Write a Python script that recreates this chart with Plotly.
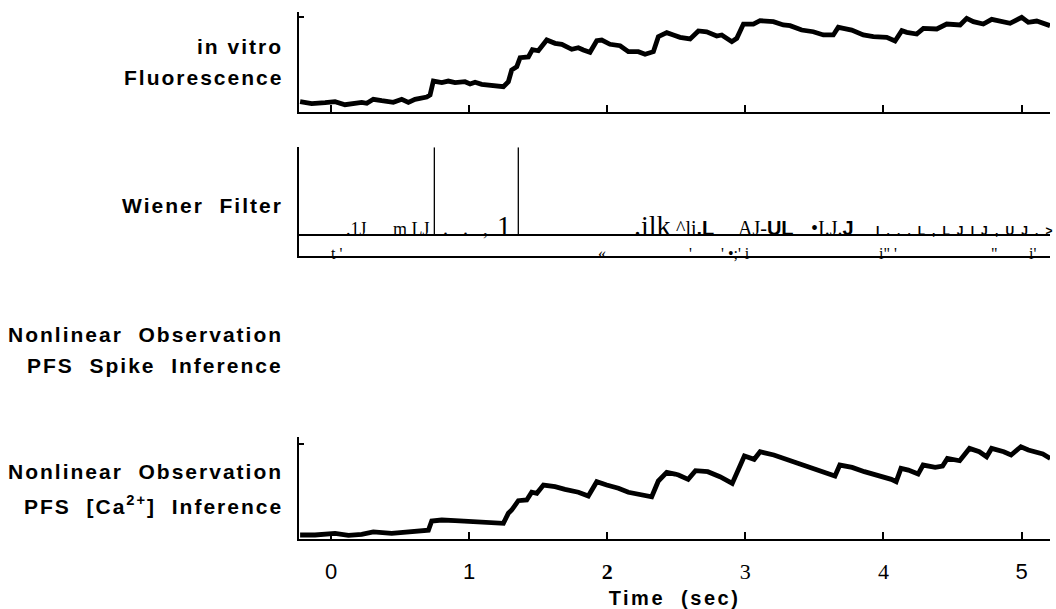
import plotly.graph_objects as go

W, H = 1056, 609
SANS = "Liberation Sans"
SERIF = "Liberation Serif"

# ---- in vitro fluorescence (normalised) ----
fluor_t = [-0.224, -0.140, -0.043, 0.029, 0.101, 0.161, 0.222, 0.259, 0.306, 0.367,
           0.451, 0.512, 0.560, 0.608, 0.693, 0.717, 0.741, 0.802, 0.849, 0.898,
           0.970, 1.007, 1.043, 1.091, 1.164, 1.248, 1.284, 1.308, 1.345, 1.369,
           1.429, 1.458, 1.501, 1.562, 1.622, 1.671, 1.743, 1.791, 1.827, 1.875,
           1.924, 1.960, 2.020, 2.093, 2.153, 2.225, 2.274, 2.334, 2.370, 2.431,
           2.479, 2.527, 2.600, 2.660, 2.720, 2.793, 2.829, 2.902, 2.938, 2.986,
           3.058, 3.106, 3.203, 3.275, 3.324, 3.408, 3.492, 3.565, 3.637, 3.673,
           3.710, 3.770, 3.854, 3.927, 4.024, 4.084, 4.133, 4.169, 4.241, 4.289,
           4.386, 4.458, 4.555, 4.603, 4.651, 4.723, 4.784, 4.868, 4.917, 5.001,
           5.049, 5.110, 5.158, 5.206]
fluor_v = [0.112, 0.091, 0.101, 0.112, 0.080, 0.091, 0.105, 0.095, 0.137, 0.122,
           0.105, 0.137, 0.105, 0.137, 0.161, 0.182, 0.329, 0.312, 0.329, 0.312,
           0.322, 0.298, 0.316, 0.295, 0.287, 0.269, 0.322, 0.445, 0.480, 0.575,
           0.582, 0.659, 0.648, 0.761, 0.726, 0.716, 0.663, 0.680, 0.656, 0.632,
           0.754, 0.761, 0.716, 0.701, 0.638, 0.638, 0.611, 0.638, 0.796, 0.838,
           0.814, 0.789, 0.772, 0.856, 0.848, 0.803, 0.814, 0.743, 0.779, 0.929,
           0.929, 0.964, 0.954, 0.919, 0.912, 0.866, 0.848, 0.814, 0.814, 0.895,
           0.884, 0.866, 0.814, 0.796, 0.789, 0.751, 0.859, 0.842, 0.824, 0.884,
           0.877, 0.929, 0.919, 0.989, 0.954, 0.929, 0.979, 0.954, 0.937, 1.000,
           0.947, 0.961, 0.943, 0.912]

# ---- inferred [Ca2+] (normalised) ----
ca_t = [-0.224, -0.116, 0.029, 0.126, 0.222, 0.306, 0.439, 0.560, 0.656, 0.705,
        0.729, 0.802, 0.898, 0.994, 1.091, 1.188, 1.248, 1.284, 1.308, 1.356,
        1.417, 1.453, 1.490, 1.538, 1.622, 1.694, 1.791, 1.863, 1.924, 1.996,
        2.081, 2.153, 2.250, 2.322, 2.370, 2.431, 2.491, 2.516, 2.586, 2.639,
        2.728, 2.816, 2.905, 2.993, 3.064, 3.107, 3.206, 3.312, 3.454, 3.596,
        3.649, 3.684, 3.773, 3.862, 3.950, 4.057, 4.092, 4.127, 4.180, 4.251,
        4.287, 4.375, 4.428, 4.463, 4.552, 4.588, 4.623, 4.694, 4.747, 4.783,
        4.871, 4.924, 4.995, 5.049, 5.154, 5.208]
ca_v = [0.042, 0.042, 0.060, 0.039, 0.049, 0.074, 0.060, 0.074, 0.084, 0.092,
        0.189, 0.200, 0.193, 0.186, 0.179, 0.172, 0.165, 0.271, 0.305, 0.403,
        0.411, 0.492, 0.481, 0.568, 0.551, 0.523, 0.492, 0.453, 0.603, 0.568,
        0.534, 0.492, 0.470, 0.445, 0.611, 0.702, 0.684, 0.674, 0.628, 0.719,
        0.709, 0.656, 0.586, 0.874, 0.839, 0.919, 0.884, 0.832, 0.761, 0.692,
        0.663, 0.779, 0.754, 0.709, 0.674, 0.628, 0.603, 0.744, 0.726, 0.684,
        0.779, 0.754, 0.768, 0.849, 0.824, 0.884, 0.954, 0.919, 0.866, 0.954,
        0.919, 0.884, 0.972, 0.937, 0.895, 0.849]

# ---- Wiener filter output: two full-height events ----
wiener_spike_t = [0.748, 1.356]
wiener_spike_h = [1.0, 1.0]

# ---- scattered glyph fragments along the Wiener trace ----
frag_text = [
    ".1J",
    "m LJ",
    '<span style="letter-spacing:5px">. . ,</span>',
    "1",
    ".ilk",
    "^li<span style=\"font-family:Liberation Sans;font-weight:bold\">.L</span>",
    "AJ-<span style=\"font-family:Liberation Sans;font-weight:bold\">UL</span>",
    "\u2022I.J.<span style=\"font-family:Liberation Sans;font-weight:bold\">J</span>",
    '<span style="font-family:Liberation Sans;font-weight:bold;letter-spacing:1.9px">I . . . L , L J I J , U J . &gt;</span>',
    "t '",
    "\u00ab",
    "'",
    "' \u2022;' i",
    "i\" '",
    "\"",
    "i'",
]
frag_t = [0.101, 0.440, 0.802, 1.195, 2.187, 2.491, 2.938, 3.469, 3.939,
          -0.007, 1.926, 2.585, 2.817, 3.961, 4.772, 5.047]
frag_row = [0, 0, 0, 0, 0, 0, 0, 0, 0, 1, 1, 1, 1, 1, 1, 1]
frag_size = [18, 18, 20, 28, 28, 20, 20, 20, 12, 16, 16, 16, 16, 16, 16, 16]

tick_vals = [0, 1, 2, 3, 4, 5]
tick_text = [
    "0",
    "1",
    '<span style="font-family:Liberation Serif;font-weight:bold">2</span>',
    '<span style="font-family:Liberation Serif">3</span>',
    '<span style="font-family:Liberation Serif">4</span>',
    "5",
]

# row labels: (text, baseline in px)
row_labels = [
    ("in vitro", 53),
    ("Fluorescence", 84),
    ("Wiener  Filter", 212),
    ("Nonlinear  Observation", 341),
    ("PFS  Spike  Inference", 372),
    ("Nonlinear  Observation", 478),
    ("PFS  [Ca<sup>2+</sup>]  Inference", 513),
]

T_RANGE = [-0.232, 5.206]
X_DOMAIN = [299 / W, 1050 / W]


def ydom(top_px, bottom_px):
    return [1 - bottom_px / H, 1 - top_px / H]


fig = go.Figure()

fig.add_trace(go.Scatter(x=fluor_t, y=fluor_v, mode="lines",
                         line=dict(color="black", width=4.8), xaxis="x", yaxis="y",
                         showlegend=False, hoverinfo="skip"))

sx, sy = [], []
for t, h in zip(wiener_spike_t, wiener_spike_h):
    sx += [t, t, None]
    sy += [0, h, None]
fig.add_trace(go.Scatter(x=sx, y=sy, mode="lines",
                         line=dict(color="black", width=1.3), xaxis="x2", yaxis="y2",
                         showlegend=False, hoverinfo="skip"))

fig.add_trace(go.Scatter(x=ca_t, y=ca_v, mode="lines",
                         line=dict(color="black", width=4.8), xaxis="x3", yaxis="y3",
                         showlegend=False, hoverinfo="skip"))

annotations = []
row_base = [0.0, -0.218]
row_nudge = [0.3, -4.0]
for txt, t, r, s in zip(frag_text, frag_t, frag_row, frag_size):
    annotations.append(dict(
        x=t, y=row_base[r], xref="x2", yref="y2", text=txt, showarrow=False,
        xanchor="left", yanchor="bottom", yshift=-(0.216 * s + 1) + row_nudge[r],
        font=dict(family=SERIF, size=s, color="black"), borderpad=0,
    ))

for txt, base in row_labels:
    annotations.append(dict(
        x=284 / W, y=1 - base / H, xref="paper", yref="paper",
        text='<span style="letter-spacing:2px">' + txt + "</span>",
        showarrow=False, xanchor="right", yanchor="bottom",
        yshift=-(0.212 * 21) - 2, borderpad=0,
        font=dict(family=SANS, size=21, color="black", weight="bold"),
    ))

axis_common = dict(showgrid=False, zeroline=False, linecolor="black", color="black")

fig.update_layout(
    width=W, height=H,
    margin=dict(l=0, r=0, t=0, b=0),
    paper_bgcolor="white", plot_bgcolor="white",
    showlegend=False,
    xaxis=dict(domain=X_DOMAIN, range=T_RANGE, anchor="y", showline=True, linewidth=2,
               ticks="inside", tickvals=tick_vals, ticklen=7, tickwidth=1.5,
               tickcolor="black", showticklabels=False, **axis_common),
    yaxis=dict(domain=ydom(11.7, 112.3), range=[0, 1.059], anchor="x", showline=True,
               linewidth=1.5, ticks="inside", tickvals=[1], ticklen=5, tickwidth=1.5,
               tickcolor="black", showticklabels=False, **axis_common),
    xaxis2=dict(domain=X_DOMAIN, range=T_RANGE, anchor="y2", showline=True, linewidth=1.5,
                ticks="", showticklabels=False, **axis_common),
    yaxis2=dict(domain=ydom(147.3, 256), range=[-0.235, 1.0], anchor="x2", showline=True,
                linewidth=1.5, ticks="", showticklabels=False, showgrid=False,
                zeroline=True, zerolinecolor="black", zerolinewidth=1.5,
                linecolor="black"),
    xaxis3=dict(domain=X_DOMAIN, range=T_RANGE, anchor="y3", showline=True, linewidth=2,
                ticks="inside", tickvals=tick_vals, ticktext=tick_text, ticklen=7,
                tickwidth=1.5, tickcolor="black", ticklabelstandoff=12,
                tickfont=dict(family=SANS, size=22, color="black"),
                title=dict(text='<span style="letter-spacing:2.5px">Time  (sec)</span>',
                           font=dict(family=SANS, size=20, color="black", weight="bold"),
                           standoff=9),
                **axis_common),
    yaxis3=dict(domain=ydom(437, 539), range=[0, 1.074], anchor="x3", showline=True,
                linewidth=1.5, ticks="inside", tickvals=[1], ticklen=5, tickwidth=1.5,
                tickcolor="black", showticklabels=False, **axis_common),
    annotations=annotations,
)

fig.write_html("out.html")
